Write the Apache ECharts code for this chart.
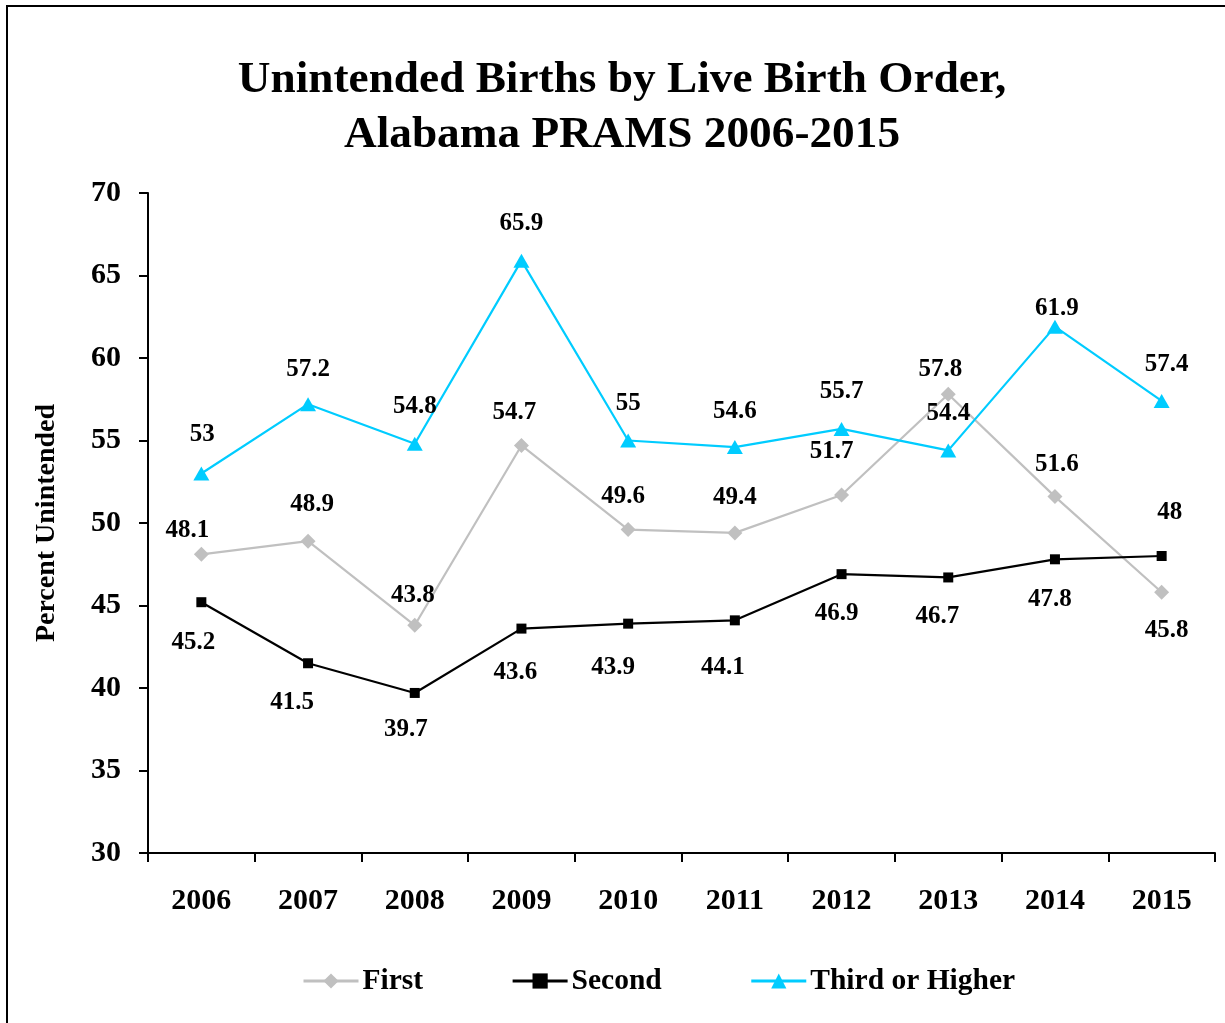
<!DOCTYPE html>
<html>
<head>
<meta charset="utf-8">
<script src="https://cdn.jsdelivr.net/npm/echarts@6/dist/echarts.min.js"></script>
<style>
html, body {margin: 0; padding: 0; background: #fff;}
#main {width: 1225px; height: 1023px;}
</style>
</head>
<body>
<div id="main"></div>
<script>
// data
var years = ['2006', '2007', '2008', '2009', '2010', '2011', '2012', '2013', '2014', '2015'];
var first = [48.1, 48.9, 43.8, 54.7, 49.6, 49.4, 51.7, 57.8, 51.6, 45.8];
var second = [45.2, 41.5, 39.7, 43.6, 43.9, 44.1, 46.9, 46.7, 47.8, 48];
var third = [53, 57.2, 54.8, 65.9, 55, 54.6, 55.7, 54.4, 61.9, 57.4];

// label placement (dx, dy from the point), as in the original
var firstLab = [[-14,-24],[4,-37],[-2,-30],[-7,-33],[-5,-33],[0,-35],[-10,-43],[-8,-25],[2,-32],[5,38]];
var secondLab = [[-8,40],[-16,39],[-9,37],[-6,44],[-15,44],[-12,47],[-5,39],[-11,39],[-5,40],[8,-43]];
var thirdLab = [[1,-39],[0,-35],[0,-37],[0,-37],[0,-37],[0,-36],[0,-37],[0,-37],[2,-18],[5,-36]];

var font = 'Liberation Serif, Times New Roman, serif';
var myChart = echarts.init(document.getElementById('main'));

function mkData(vals, offs) {
	var arr = [];
	for (var i = 0; i < vals.length; i++) {
		arr.push({value: vals[i], label: {offset: offs[i]}});
	}
	return arr;
}

var lbl = {show: true, position: 'inside', color: '#000', fontFamily: font, fontWeight: 'bold', fontSize: 25};

option = {
    animation: false,
    backgroundColor: '#fff',
    title: {
        text: 'Unintended Births by Live Birth Order,\nAlabama PRAMS 2006-2015',
        left: 617, top: 48, textAlign: 'center',
        textStyle: {fontFamily: font, fontWeight: 'bold', fontSize: 45.3, lineHeight: 55, color: '#000'}
    },
    graphic: [{type: 'rect', shape: {x: 7, y: 6, width: 1300, height: 1100},
        style: {fill: 'none', stroke: '#000', lineWidth: 2}}],
    legend: {
        left: 302, top: 966, padding: 0, itemWidth: 55, itemHeight: 19, itemGap: 88,
        lineStyle: {width: 3},
        textStyle: {fontFamily: font, fontWeight: 'bold', fontSize: 29.5, color: '#000', padding: [0, 0, 0, -1]},
        data: ['First', 'Second', 'Third or Higher']
    },
    grid: {left: 148, right: 10, top: 193, bottom: 170},
    xAxis: {
        type: 'category', data: years, boundaryGap: true,
        axisLine: {lineStyle: {color: '#000', width: 2}},
        axisTick: {show: true, length: 9, lineStyle: {color: '#000', width: 2}},
        axisLabel: {margin: 33, color: '#000', fontFamily: font, fontWeight: 'bold', fontSize: 30}
    },
    yAxis: {
        type: 'value', min: 30, max: 70, interval: 5,
        name: 'Percent Unintended', nameLocation: 'middle', nameGap: 87, nameRotate: 90,
        nameTextStyle: {fontFamily: font, fontWeight: 'bold', fontSize: 28, color: '#000'},
        axisLine: {show: true, lineStyle: {color: '#000', width: 2}},
        axisTick: {show: true, length: 9, lineStyle: {color: '#000', width: 2}},
        splitLine: {show: false},
        axisLabel: {margin: 27, color: '#000', fontFamily: font, fontWeight: 'bold', fontSize: 30}
    },
    series: [
        {name: 'First', type: 'line', data: mkData(first, firstLab), symbol: 'diamond', symbolSize: 15,
         lineStyle: {color: '#C0C0C0', width: 2.2}, itemStyle: {color: '#C0C0C0'}, label: lbl},
        {name: 'Second', type: 'line', data: mkData(second, secondLab), symbol: 'rect', symbolSize: 10,
         lineStyle: {color: '#000', width: 2.2}, itemStyle: {color: '#000'}, label: lbl},
        {name: 'Third or Higher', type: 'line', data: mkData(third, thirdLab), symbol: 'triangle', symbolSize: [16, 14],
         lineStyle: {color: '#00CCFF', width: 2.2}, itemStyle: {color: '#00CCFF'}, label: lbl}
    ]
};
myChart.setOption(option);
</script>
</body>
</html>
